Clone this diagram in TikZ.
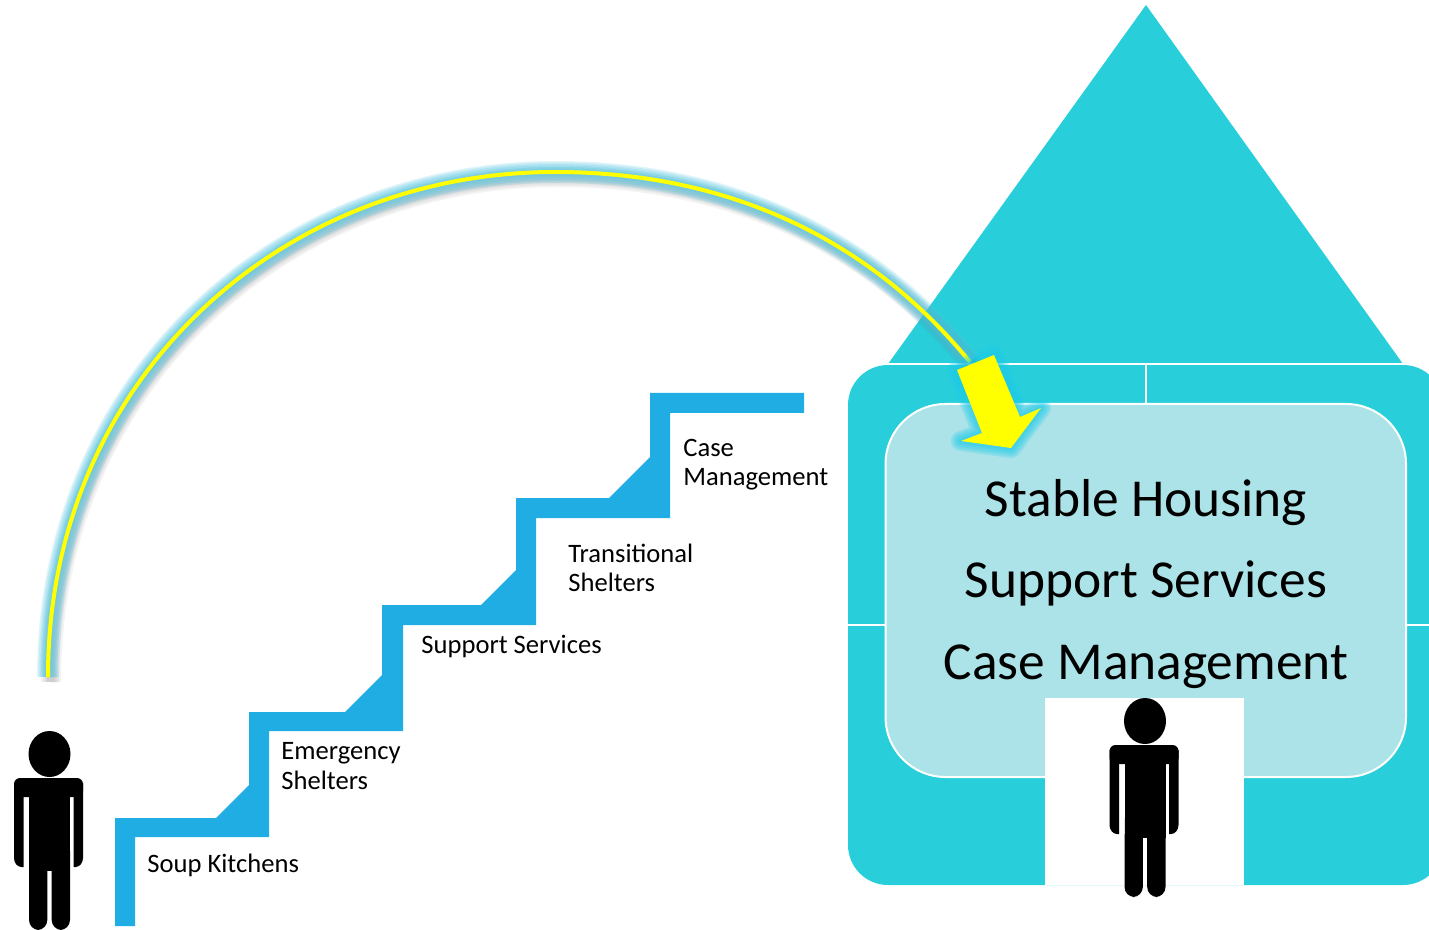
\documentclass[tikz,border=0pt]{standalone}
\usepackage{fontspec}
\setmainfont{Carlito}
\definecolor{stairblue}{HTML}{1FADE4}
\definecolor{housecyan}{HTML}{28CFDB}
\definecolor{roomcyan}{HTML}{ABE3E8}
\definecolor{glowblue}{HTML}{58C6E0}
\definecolor{arrowglow}{HTML}{1CCBEA}
\definecolor{pureyellow}{RGB}{255,255,0}
\newcommand{\arcpath}{(48,677) .. controls (48,380) and (280,172) .. (555,172) .. controls (730,172) and (870,240) .. (970,362)}
\newcommand{\arrowpath}{(957,370) -- (994,355) -- (1020,417) -- (1041,408) -- (1011,448) -- (961,441) -- (982,433) -- cycle}
\tikzset{
  steplabel/.style={anchor=west,align=left,inner sep=0pt,font=\fontsize{13.3}{14.6}\selectfont},
  person/.pic={
    \fill[black] (0,23) ellipse (21 and 23);
    \fill[black,rounded corners=3pt] (-35.5,47) rectangle (33.5,66);
    \fill[black] (-20.5,55) rectangle (20.5,140);
    \foreach \s in {-1,1}{
      \fill[black] ({\s*25-1},52) -- ({\s*25-1},136) -- ({\s*27-1},136) .. controls ({\s*31-1},136) and ({\s*34.5-1},132) .. ({\s*34.5-1},127) -- ({\s*34.5-1},52) -- cycle;
      \fill[black,rounded corners=5pt] (\s*20.5,120) -- (\s*20.5,199) -- (\s*2.2,199) [sharp corners] -- (\s*2.2,136) -- (\s*20.5,136) -- cycle;
    }
  }
}
\begin{document}
\begin{tikzpicture}[x=0.5pt,y=-0.5pt]
\clip (0,0) rectangle (1429,930);

\fill[housecyan] (1146,5) -- (1403,364) -- (888,364) -- cycle;
\fill[housecyan,rounded corners=20pt] (848,365) rectangle (1443,885);
\draw[white,line width=1pt] (888,364.5) -- (1403,364.5);
\draw[white,line width=1pt] (1146,364) -- (1146,404);
\draw[white,line width=1pt] (848,625) -- (1429,625);
\draw[white,line width=1pt,fill=roomcyan,rounded corners=30pt] (885.5,404) rectangle (1406,777);
\fill[white] (1045,698) rectangle (1244,885);

\fill[stairblue] (115,926) -- (115,818) -- (216,818) -- (249,785) -- (249,712) -- (345,712)
  -- (382,675) -- (382,605) -- (481,605) -- (516,570) -- (516,498) -- (609,498) -- (650,457)
  -- (650,393) -- (804,393) -- (804,413) -- (670,413) -- (670,518) -- (536,518) -- (536,625)
  -- (403,625) -- (403,731) -- (269,731) -- (269,837) -- (135,837) -- (135,926) -- cycle;

\foreach \w in {10,8,6,4}{
  \draw[black,opacity=0.05,line width=\w pt,shift={(3,5)}] \arcpath;
}
\foreach \w in {11,9.5,8,6.5,5,3.5}{
  \draw[glowblue,opacity=0.2,line width=\w pt] \arcpath;
}
\draw[pureyellow,line width=2pt] \arcpath;

\foreach \w in {10,8,6,4,2}{
  \draw[arrowglow,opacity=0.22,line width=\w pt,line join=round] \arrowpath;
}
\fill[pureyellow] \arrowpath;

\node[align=center,inner sep=0pt,font=\fontsize{26.7}{40.6}\selectfont] (services) at (1146,584) {Stable Housing\\Support Services\\Case Management};

\node[steplabel] (soup) at (147,865) {Soup Kitchens};
\node[steplabel] (emergency) at (281,766) {Emergency\\Shelters};
\node[steplabel] (support) at (421,646) {Support Services};
\node[steplabel] (transitional) at (568,568) {Transitional\\Shelters};
\node[steplabel] (casemgmt) at (683,465) {Case\\Management};

\pic (outside) at (49.5,731) {person};
\pic (inside) at (1145,698) {person};

\end{tikzpicture}
\end{document}
